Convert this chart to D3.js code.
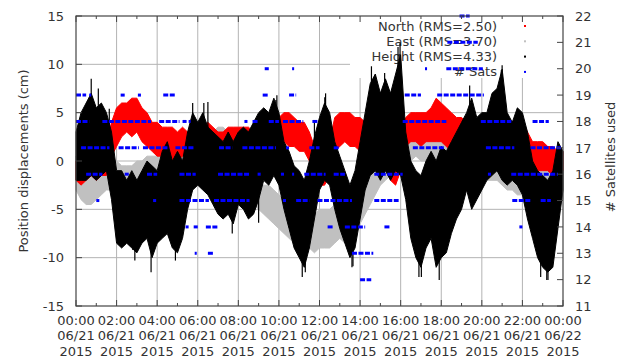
<!DOCTYPE html>
<html><head><meta charset="utf-8">
<script src="https://cdn.jsdelivr.net/npm/d3@7"></script>
<style>body{margin:0;background:#fff}svg{display:block}text{font-family:"DejaVu Sans",sans-serif;fill:#333}</style>
</head><body><svg id="c" width="633" height="358"></svg>
<script>
// ---- data (hours since 06/21/2015 00:00) ----
const times = [0,0.25,0.5,0.75,1,1.25,1.5,1.75,2,2.25,2.5,2.75,3,3.25,3.5,3.75,4,4.25,4.5,4.75,5,5.25,5.5,5.75,6,6.25,6.5,6.75,7,7.25,7.5,7.75,8,8.25,8.5,8.75,9,9.25,9.5,9.75,10,10.25,10.5,10.75,11,11.25,11.5,11.75,12,12.25,12.5,12.75,13,13.25,13.5,13.75,14,14.25,14.5,14.75,15,15.25,15.5,15.75,16,16.25,16.5,16.75,17,17.25,17.5,17.75,18,18.25,18.5,18.75,19,19.25,19.5,19.75,20,20.25,20.5,20.75,21,21.25,21.5,21.75,22,22.25,22.5,22.75,23,23.25,23.5,23.75,24];

const heightHi = [3,5,6,7,5.5,6,5,3, -1,-1,-2,-1,-2,-1,0,-0.5, -1,1,2,0,1,0,3,5, 4,5,3.5,3,2.5,2,3,2, 3,3.5,3,4,5,5.5,5,6.5, 5,2,1,-0.5,-1,-2,0,2.5, 4.5,6,5,2,0.5,-1,-2.5,-1, 2,5,8,9,7,8.5,7,9, 11,3,0,-1,-1.5,0,1,0, 1.5,1,2,3,4,5,6.5,4.5, 5,5,7,7.5,9.5,5,4,5.5, 5,3,0,-1,-1.5,-2,-1,2, 1];
const heightLo = [-2,-2,-2,-1.5,-2,-1.5,-1,-4, -8.5,-9,-8.5,-9,-9.5,-8.5,-8,-10, -8.5,-8,-7.5,-9,-9.5,-8,-5,-3, -2.5,-3,-3.5,-4.5,-5.5,-6,-5.5,-6.5, -4.5,-5,-6,-5.5,-4,-2,-2.5,-1.5, -2.5,-5,-7,-9,-10,-11,-9,-6, -3,-2,-2.5,-5,-7,-8.5,-10,-9, -6,-3,-1.5,-1,-2,-1,-2,-1, -1.5,-4,-8,-10,-11,-9,-8,-11, -10,-9.5,-7.5,-6,-5,-3,-5,-4, -3,-2,-1.5,-1,-2,-2.5,-2,-2.5, -3.5,-6,-8,-10,-11,-11.5,-11,-7, -3];
const heightSpikeT = [0.75,1.1,1.64,2.8,2.9,3.7,4.9,5.75,6.3,6.5,7.7,9.0,9.85,9.9,11.15,11.3,11.75,12.26,12.3,13.6,13.65,14.56,15.21,15.87,15.97,16.9,17.02,17.9,19.4,20.96,21,22.9,23.2,23.26];
const heightSpikeV = [8.5,7.5,5.4,-9.2,-10.3,-11.5,-10.3,6,6,6.1,-7.5,-6.4,6.3,6.8,-12,-11.5,4.2,6.6,7,-11,-10.9,9.8,9.1,11.8,12.2,-12,-12,-12.3,7.8,9.4,9.9,-12,-12.3,-12.3];

const northHi = [0,0.5,0,1,1,0.5,1.5,4, 5.5,6,6,6.5,6.5,5.5,5,4, 4,3.5,3.5,3.5,3,3.5,3,3, 3.5,3.5,4,3.5,3,3,3.5,3.5, 3.5,3.5,3.5,3,3.5,3,3,3.5, 4.5,5,5,4.5,4,4,3,1.5, 1,1,2,4.5,5,5,5,4.5, 4.5,4,4.5,4,4,3.5,2,1, 2.5,4.5,5,5,5,5,5.5,6.5, 6,5.5,5,4.5,4.5,4,4,3.5, 4,4,4,3.5,3.5,4,4,4, 4,3,2,2,2,1.5,1.5,1, 1];
const northLo = [-2,-2.5,-2,-1.5,-2,-1.5,-1.5,0.5, 1.5,2.5,3,2.5,3,2,1.5,1, 0.5,0.5,0.5,0,0,0.5,0.5,0.5, 1,1,1,1,1,0.5,0.5,1, 0.5,0.5,0,0,0.5,1,1,1, 1.5,2,1.5,1.5,1,1,0,-2, -2.5,-2.5,-1.5,1,1.5,2,1.5,1.5, 1,1,1,0.5,0.5,0,-2,-2.5, -1,1.5,2,2,1.5,2,2,2, 2,1.5,1,1,1,0.5,0.5,0.5, 0.5,0.5,0,0,0,0.5,0.5,0.5, 0.5,0,-0.5,-1,-1,-1,-1.5,-1.5, -1];

const eastHi = [0.5,-0.5,-1,-1,-1,-0.5,0,0, 0,-0.5,-0.5,-0.5,0,0,0.5,0.5, 0.5,1,1.5,2,2,2.5,2.5,3, 3,3,3,3,3.5,3.5,3,2.5, 1.5,0,-1,-1.5,-2,-2.5,-2.5,-3, -3.5,-4,-4,-4.5,-4.5,-5,-5,-5.5, -5,-5,-5,-4.5,-4.5,-5,-4.5,-4, -3,-2,-1,0,0.5,1,1.5,2, 3,3.5,4,4,3.5,3.5,3.5,3, 2.5,2.5,2,2,1.5,1,1,0.5, 0.5,1,1,1,0.5,0.5,0,0, 0,-0.5,-0.5,-1,-1,-1,-1.5,-1, -1];
const eastLo = [-3,-4,-4.5,-4.5,-4,-3.5,-3,-3, -3,-3.5,-3,-3,-3,-2.5,-2.5,-2, -2,-1.5,-1.5,-1,-1,-0.5,-0.5,0, 0,0,0,0.5,0.5,0.5,0.5,0, -1.5,-3,-4,-4.5,-5,-5.5,-6,-6.5, -7,-7.5,-8,-8.5,-8.5,-9,-9,-9.5, -9,-9,-9,-8.5,-8,-8.5,-8.5,-7.5, -6.5,-5.5,-4.5,-3.5,-2.5,-2,-1.5,-1, -0.5,0,0,0.5,0,0,0,-0.5, -1,-1,-1.5,-1.5,-2,-2,-2.5,-2.5, -2.5,-2,-2,-2,-2.5,-3,-3,-3.5, -3.5,-4,-4,-4.5,-4.5,-5,-5,-4.5, -4];

const satStart = [0,0.65,2.2,3.05,4.3,9.2,10.5,16.2,17.8, 9.3,10.65,18.25,17.2, 18.3, 18.9, 0,1.3,4.1,5.25,5.55,8.3,8.7,9.5,10.2,11.65,16.1,19.95,22.5, 0.25,2.1,3.3,4.9,7.05,8.2,10.35,11.5,12.7,16.6,20.2,22.4, 0.5,2.4,3.5,5.1,7.0,8.95,10.1,10.65,11.25,12.7,14.7,20.3,21.45, 1.0,3.8,5.1,6.8,10.2,10.85,11.9,14.7,21.5,22.9, 5.4,5.8,6.4,12.4,13.25,15.2,21.85, 5.85,6.5,13.6, 14.0];
const satEnd   = [0.5,0.75,2.4,3.2,4.9,9.5,10.85,17.0,20.1, 9.5,10.75,20.05,17.3, 19.8, 19.4, 0.65,3.7,5.1,5.45,5.65,8.45,9.0,10.0,11.2,11.95,18.25,21.45,23.3, 1.65,3.1,4.6,5.8,7.7,9.85,10.5,12.0,13.0,18.2,21.6,23.9, 1.3,2.6,4.0,5.9,8.55,9.1,10.25,10.75,12.3,13.25,16.1,20.45,23.75, 1.15,3.95,6.55,8.55,10.35,11.5,13.6,15.9,22.4,23.4, 5.55,6.0,7.0,12.65,14.25,15.45,22.0, 5.95,6.75,14.65, 14.55];
const satValue = [19,19,19,19,19,19,19,19,19, 20,20,20,20, 21, 22, 18,18,18,18,18,18,18,18,18,18,18,18,18, 17,17,17,17,17,17,17,17,17,17,17,17, 16,16,16,16,16,16,16,16,16,16,16,16,16, 15,15,15,15,15,15,15,15,15,15, 14,14,14,14,14,14,14, 13,13,13, 12];

const xTickHours = [0,2,4,6,8,10,12,14,16,18,20,22,24];
const xTickTime = ["00:00","02:00","04:00","06:00","08:00","10:00","12:00","14:00","16:00","18:00","20:00","22:00","00:00"];
const xTickDate = ["06/21","06/21","06/21","06/21","06/21","06/21","06/21","06/21","06/21","06/21","06/21","06/21","06/22"];
const xTickYear = ["2015","2015","2015","2015","2015","2015","2015","2015","2015","2015","2015","2015","2015"];
const yTicks = [-15,-10,-5,0,5,10,15];
const y2Ticks = [11,12,13,14,15,16,17,18,19,20,21,22];
const legendLabels = ["North (RMS=2.50)","East (RMS=3.70)","Height (RMS=4.33)","# Sats"];
const legendColors = ["#ff0000","#c0c0c0","#000000","#0000ff"];

// ---- drawing ----
const svg = d3.select("#c");
const L=76, R=563, T=16, B=306;
const x = d3.scaleLinear().domain([0,24]).range([L,R]);
const y = d3.scaleLinear().domain([-15,15]).range([B,T]);
const y2 = d3.scaleLinear().domain([11,22]).range([B,T]);
const gridC = "#b4b4b4", borderC = "#444";

// grid
svg.append("g").selectAll("line.v").data(xTickHours.slice(1,-1)).join("line")
  .attr("x1",d=>x(d)).attr("x2",d=>x(d)).attr("y1",T).attr("y2",B).attr("stroke",gridC).attr("stroke-width",1);
svg.append("g").selectAll("line.h").data(yTicks.slice(1,-1)).join("line")
  .attr("x1",L).attr("x2",R).attr("y1",d=>y(d)).attr("y2",d=>y(d)).attr("stroke",gridC).attr("stroke-width",1);

// opaque key box
svg.append("rect").attr("x",350).attr("y",T).attr("width",R-350).attr("height",62).attr("fill","#fff");
const lg = svg.append("g");
legendLabels.forEach((s,i)=>{
  lg.append("text").attr("x",497).attr("y",30.5+i*15.3).attr("text-anchor","end").attr("font-size",13).text(s);
  lg.append("rect").attr("x",524).attr("y",25+i*15.3).attr("width",2).attr("height",2).attr("fill",legendColors[i]);
});

const idx = d3.range(times.length);
function band(hi, lo, color){
  const area = d3.area().x(i=>x(times[i])).y0(i=>y(lo[i])).y1(i=>y(hi[i]));
  svg.append("path").attr("d",area(idx)).attr("fill",color).attr("stroke",color).attr("stroke-width",1);
}
band(eastHi, eastLo, "#c0c0c0");
band(northHi, northLo, "#ff0000");
band(heightHi, heightLo, "#000000");
// height spikes
svg.append("g").selectAll("line").data(heightSpikeT.map((t,i)=>[t,heightSpikeV[i]])).join("line")
  .attr("x1",d=>x(d[0])).attr("x2",d=>x(d[0]))
  .attr("y1",d=>y(d[1]))
  .attr("y2",d=>{const k=Math.round(d[0]*4); return y((heightHi[k]+heightLo[k])/2);})
  .attr("stroke","#000").attr("stroke-width",1.2);

// satellites
svg.append("g").selectAll("line").data(satStart.map((s,i)=>i)).join("line")
  .attr("x1",i=>x(satStart[i])).attr("x2",i=>x(satEnd[i]))
  .attr("y1",i=>y2(satValue[i])).attr("y2",i=>y2(satValue[i]))
  .attr("stroke","#0000ff").attr("stroke-width",3).attr("stroke-dasharray","5,1.5");

// border
svg.append("rect").attr("x",L).attr("y",T).attr("width",R-L).attr("height",B-T)
  .attr("fill","none").attr("stroke",borderC).attr("stroke-width",1.2);

// ticks
const tk = svg.append("g").attr("stroke",borderC).attr("stroke-width",1);
xTickHours.forEach(h=>{
  tk.append("line").attr("x1",x(h)).attr("x2",x(h)).attr("y1",B).attr("y2",B-6);
  tk.append("line").attr("x1",x(h)).attr("x2",x(h)).attr("y1",T).attr("y2",T+6);
});
xTickHours.slice(0,-1).forEach(h=>{
  tk.append("line").attr("x1",x(h+1)).attr("x2",x(h+1)).attr("y1",B).attr("y2",B-3);
  tk.append("line").attr("x1",x(h+1)).attr("x2",x(h+1)).attr("y1",T).attr("y2",T+3);
});
yTicks.forEach(v=>{
  tk.append("line").attr("x1",L).attr("x2",L+6).attr("y1",y(v)).attr("y2",y(v));
});
y2Ticks.forEach(v=>{
  tk.append("line").attr("x1",R).attr("x2",R-6).attr("y1",y2(v)).attr("y2",y2(v));
});

// tick labels
const xl = svg.append("g").attr("font-size",13).attr("text-anchor","middle");
xTickHours.forEach((h,i)=>{
  const t = xl.append("text").attr("x",x(h)).attr("y",325);
  t.append("tspan").attr("x",x(h)).attr("dy",0).text(xTickTime[i]);
  t.append("tspan").attr("x",x(h)).attr("dy",15.3).text(xTickDate[i]);
  t.append("tspan").attr("x",x(h)).attr("dy",15.3).text(xTickYear[i]);
});
svg.append("g").attr("font-size",13).attr("text-anchor","end").selectAll("text").data(yTicks).join("text")
  .attr("x",64).attr("y",d=>y(d)+4.7).text(d=>d);
svg.append("g").attr("font-size",13).attr("text-anchor","start").selectAll("text").data(y2Ticks).join("text")
  .attr("x",575).attr("y",d=>y2(d)+4.7).text(d=>d);

// axis titles
svg.append("text").attr("transform","translate(27.5,161) rotate(-90)").attr("text-anchor","middle")
  .attr("font-size",13).text("Position displacements (cm)");
svg.append("text").attr("transform","translate(614.5,157) rotate(-90)").attr("text-anchor","middle")
  .attr("font-size",13).text("# Satellites used");
</script></body></html>
